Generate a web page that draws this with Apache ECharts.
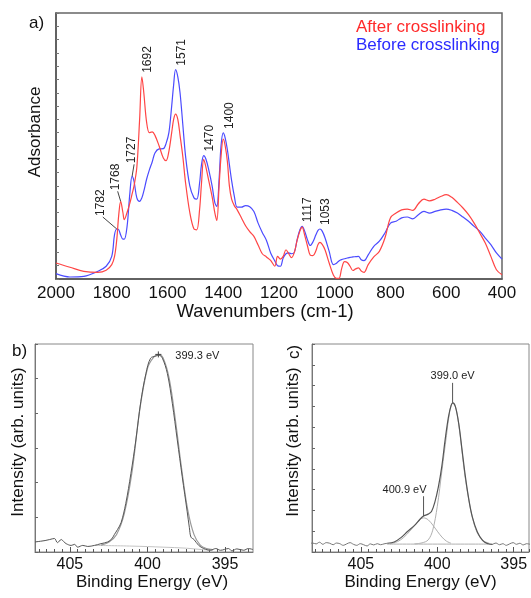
<!DOCTYPE html>
<html><head><meta charset="utf-8">
<script src="https://cdn.jsdelivr.net/npm/echarts@6/dist/echarts.min.js"></script>
<style>html,body{margin:0;padding:0;background:#fff}#c{width:531px;height:598px}</style>
</head><body><div id="c"></div>
<script>
const FONT = '"Liberation Sans", Arial, Helvetica, sans-serif';

// ---- Panel a: FTIR ----
const wavenumbers = [2000,1950,1900,1850,1820,1800,1790,1782,1775,1768,1760,1755,1745,1735,1727,1720,1710,1700,1692,1685,1675,1665,1655,1645,1630,1615,1605,1595,1585,1578,1571,1563,1555,1545,1535,1520,1505,1495,1485,1478,1470,1462,1452,1440,1430,1423,1415,1408,1400,1393,1385,1378,1370,1360,1350,1335,1320,1305,1290,1275,1260,1245,1230,1215,1205,1195,1185,1175,1165,1155,1145,1135,1125,1117,1108,1098,1088,1078,1068,1060,1053,1045,1035,1020,1005,995,985,975,965,955,945,935,925,915,905,895,880,860,840,820,800,780,760,740,720,700,680,660,640,620,600,580,560,540,520,500,480,460,440,420,400];
const afterCrosslinking = [6.0,4.4,2.9,2.5,3.3,5.4,8.5,14.8,24,29.2,25,22.3,25,28.5,32,35,42,60,76,70,59,55,55.3,54,50,45.5,44.5,48,55,60,62,60,54,46,36,25,18.8,18.5,26,36,45,42,37,31,24.8,22,34.8,46,52.6,50,44,35,30,27.5,26,23,20,17.8,16,12.8,9.5,8.3,7,4.8,8.5,7.5,8.5,11,9.5,8,10,14.5,18,19.5,16.5,12.5,9,8.8,10.5,13,13.8,13,11,6,1.5,0.3,0.2,4,6.5,6.2,4.8,3.2,3.8,4.2,3,2.5,5.4,8.3,10.4,15.4,23,24.8,26,26.3,25.8,28.3,30,29.4,30,31,31.7,30.7,28.8,26.7,24.2,21,17.3,13.5,8.5,3.5,1.6];
const beforeCrosslinking = [2,0.75,1,2.9,4.8,8.5,16.7,18.8,18.5,16.5,15,15,19.8,32.3,38.6,36.7,30.5,29.2,30.5,33,37.5,41,44,47.4,48.9,49,51,55,65,73,78.7,76,70,58,46,35,30.5,30,36,43,46.4,45,41,35,28.6,27.3,37.3,50,54.9,53,48.5,43,37,31,27,27,27.6,27.2,25.4,21,17.5,14.5,9.8,6.8,5,4.8,7.9,9.5,9.8,9.5,10,14.8,18.5,19.8,18,14.8,12.6,14,16.5,18.3,18.8,18,15.5,10.4,5.4,5.8,6.8,7.3,7.6,7.9,8.1,8.3,8.4,8.5,7.2,6.9,9.1,12.3,14.2,17.3,21,21.7,23,23.3,22.6,24.2,25.4,24.8,25.4,26,26.3,25.8,24.8,23.3,21.7,19.8,18,15.4,12.9,9.8,7.5];
const peakWavenumbers = [1782,1768,1727,1692,1571,1470,1400,1117,1053];
const peakLabels = ['1782','1768','1727','1692','1571','1470','1400','1117','1053'];
const seriesNames = ['After crosslinking','Before crosslinking'];

// ---- Panel b: XPS N1s ----
const bDataEnergy = [407.25,406.9,406.6,406.3,406.0,405.8,405.56,405.4,405.24,404.92,404.7,404.5,404.17,403.85,403.42,403.0,402.57,402.3,402.14,401.93,401.7,401.4,401.07,400.75,400.43,400.1,399.8,399.47,399.26,399.04,398.72,398.4,398.08,397.76,397.44,397.3,397.2,397.0,396.7,396.37,395.95,395.6,395.3,394.77,394.56,394.24,393.8,393.5,393.2];
const bDataIntensity = [0.29,0.31,0.33,0.36,0.39,0.27,0.36,0.3,0.24,0.19,0.22,0.14,0.19,0.16,0.19,0.24,0.29,0.38,0.5,0.65,0.85,1.4,2.26,3.23,4.34,5.15,5.59,5.65,5.68,5.59,5.15,4.29,3.23,2.17,1.16,0.7,0.43,0.36,0.19,0.1,0.05,0.1,0.05,0.1,0.03,0.09,0.05,0.1,0.07];
const bFitEnergy = [403.0,402.5,402.0,401.5,401.0,400.5,400.0,399.6,399.3,399.0,398.6,398.2,397.8,397.4,397.0,396.6,396.2,395.8];
const bFitIntensity = [0.2,0.28,0.5,1.1,2.3,4.1,5.3,5.62,5.7,5.6,5.0,3.8,2.4,1.2,0.5,0.2,0.1,0.07];
const bBgEnergy = [403.4,401.0,399.0,397.5,396.5,395.8];
const bBgIntensity = [0.19,0.17,0.14,0.11,0.07,0.05];
const bPeakEnergy = [399.3];
const bPeakLabel = ['399.3 eV'];

// ---- Panel c: XPS N1s, two components ----
const cDataEnergy = [408.38,408.16,407.93,407.71,407.49,407.27,407.04,406.82,406.6,406.38,406.16,405.93,405.71,405.49,405.27,405.04,404.82,404.6,404.38,404.16,403.93,403.71,403.49,403.27,396.38,396.16,395.93,395.71,395.49,395.27,395.04,394.82,394.6,394.38,394.16,393.93];
const cDataIntensity = [0.40,0.43,0.39,0.47,0.37,0.45,0.42,0.35,0.43,0.4,0.32,0.39,0.45,0.37,0.32,0.4,0.35,0.29,0.39,0.34,0.4,0.35,0.39,0.42,0.37,0.43,0.35,0.4,0.32,0.39,0.45,0.37,0.42,0.34,0.4,0.37];
const cFitEnergy = [403.27,402.82,402.38,401.93,401.49,401.16,400.93,400.6,400.38,400.16,399.93,399.71,399.49,399.27,399.09,398.98,398.82,398.6,398.38,398.16,397.93,397.71,397.38,397.04,396.71,396.38];
const cFitIntensity = [0.42,0.48,0.69,1.0,1.28,1.55,1.72,1.82,1.95,2.4,3.13,4.09,5.38,6.5,7.06,7.17,7.0,6.18,4.9,3.61,2.49,1.69,0.96,0.56,0.4,0.37];
const cComp1Energy = [401.5,401.0,400.6,400.3,400.0,399.7,399.4,399.2,399.0,398.8,398.6,398.4,398.2,397.9,397.7,397.4,397.0,396.6];
const cComp1Intensity = [0.39,0.44,0.58,1.05,2.2,3.9,5.6,6.7,7.15,6.95,6.15,4.95,3.7,2.35,1.65,0.95,0.55,0.42];
const cComp2Energy = [403.1,402.6,402.2,401.8,401.4,401.1,400.9,400.6,400.3,400.0,399.7,399.4,399.1];
const cComp2Intensity = [0.39,0.5,0.7,1.0,1.35,1.58,1.64,1.55,1.3,1.0,0.72,0.52,0.42];
const cBgEnergy = [403.3,396.7];
const cBgIntensity = [0.38,0.38];
const cPeakEnergy = [399.0,400.9];
const cPeakLabel = ['399.0 eV','400.9 eV'];

const xpsTicks = [395,400,405];

// ---------------------------------------------------------------
const zip = (xs, ys) => xs.map((x, i) => [x, ys[i]]);
const nearest = (xs, ys, x) => { let bi = 0; xs.forEach((v, i) => { if (Math.abs(v - x) < Math.abs(xs[bi] - x)) bi = i; }); return ys[bi]; };
const halfSteps = (a, b) => { const r = []; for (let k = Math.ceil(a * 2); k <= Math.floor(b * 2); k++) r.push(k / 2); return r; };

const peakPoints = peakWavenumbers.map(w => {
  const i = wavenumbers.indexOf(w);
  return [w, Math.max(afterCrosslinking[i], beforeCrosslinking[i])];
});
const leader = {1782: [-14, -12], 1768: [-3, -10], 1727: [2, -12]};

const nameStyle = {fontFamily: FONT, fontSize: 17, color: '#111'};

function xpsX(gridIndex, min, max, pad) {
  return [{
    gridIndex, type: 'value', inverse: true, min, max, position: 'bottom',
    axisLine: {show: true, lineStyle: {color: '#777', width: 1}},
    axisTick: {show: true, inside: true, length: 5, customValues: xpsTicks, lineStyle: {color: '#555'}},
    axisLabel: {customValues: xpsTicks, fontFamily: FONT, fontSize: 16, color: '#111', margin: 5},
    splitLine: {show: false},
    name: 'Binding Energy (eV)', nameLocation: 'middle', nameGap: 22,
    nameTextStyle: Object.assign({padding: pad}, nameStyle)
  }, {
    gridIndex, type: 'value', inverse: true, min, max, position: 'bottom',
    axisLine: {show: false}, axisLabel: {show: false}, splitLine: {show: false},
    axisTick: {show: true, inside: true, length: 3, customValues: halfSteps(min, max), lineStyle: {color: '#555'}}
  }];
}
function xpsY(gridIndex, max, gap) {
  return {
    gridIndex, type: 'value', min: 0, max, interval: 1,
    axisLine: {show: true, lineStyle: {color: '#777'}},
    axisTick: {show: true, inside: true, length: 3, lineStyle: {color: '#666'}},
    axisLabel: {show: false}, splitLine: {show: false},
    name: 'Intensity (arb. units)', nameLocation: 'middle', nameGap: gap,
    nameTextStyle: Object.assign({padding: [0, 0, 0, 12]}, nameStyle)
  };
}
const lineS = (name, xi, yi, data, color, width, z) => ({
  name, type: 'line', xAxisIndex: xi, yAxisIndex: yi, data, showSymbol: false, symbol: 'none',
  smooth: 0.35, lineStyle: {color, width}, itemStyle: {color}, z: z || 2, animation: false, silent: true
});

const option = {
  animation: false,
  backgroundColor: '#fff',
  grid: [
    {left: 56, right: 29, top: 13, bottom: 319, show: true, borderColor: '#666', borderWidth: 1.5},
    {left: 35, right: 278, top: 344, bottom: 46, show: true, borderColor: '#888', borderWidth: 1},
    {left: 312, right: 2, top: 344, bottom: 46, show: true, borderColor: '#888', borderWidth: 1}
  ],
  legend: {
    left: 350, top: 18, orient: 'vertical', padding: 0, itemGap: 0, itemWidth: 0, itemHeight: 0,
    selectedMode: false,
    data: [
      {name: seriesNames[0], textStyle: {color: '#ff2a2a'}},
      {name: seriesNames[1], textStyle: {color: '#2b2bff'}}
    ],
    textStyle: {fontFamily: FONT, fontSize: 17, lineHeight: 18}
  },
  xAxis: [
    {
      gridIndex: 0, type: 'value', inverse: true, min: 400, max: 2000, interval: 200,
      axisLine: {lineStyle: {color: '#555', width: 1.5}},
      axisTick: {show: false},
      axisLabel: {fontFamily: FONT, fontSize: 17, color: '#111', margin: 6, formatter: v => String(v)},
      splitLine: {show: false},
      name: 'Wavenumbers (cm-1)', nameLocation: 'middle', nameGap: 23,
      nameTextStyle: {fontFamily: FONT, fontSize: 18.5, color: '#111', padding: [0, 28, 0, 0]}
    },
    ...xpsX(1, 393.2, 407.25, [0, 0, 0, 16]),
    ...xpsX(2, 394.0, 408.2, [0, 0, 0, 0])
  ],
  yAxis: [
    {
      gridIndex: 0, type: 'value', min: 0, max: 100, interval: 5,
      axisLine: {show: true, lineStyle: {color: '#555', width: 1.5}},
      axisTick: {show: true, inside: true, length: 3, lineStyle: {color: '#777'}},
      axisLabel: {show: false}, splitLine: {show: false},
      name: 'Adsorbance', nameLocation: 'middle', nameGap: 12,
      nameTextStyle: Object.assign({padding: [0, 0, 0, 28]}, nameStyle)
    },
    xpsY(1, 6, 8),
    xpsY(2, 10, 10)
  ],
  graphic: [
    {type: 'text', x: 29, y: 23, style: {text: 'a)', font: '17px ' + FONT, fill: '#111', verticalAlign: 'middle'}},
    {type: 'text', x: 12, y: 351, style: {text: 'b)', font: '17px ' + FONT, fill: '#111', verticalAlign: 'middle'}},
    {type: 'text', x: 294, y: 352, rotation: Math.PI / 2, style: {text: 'c)', font: '17px ' + FONT, fill: '#111', align: 'center', verticalAlign: 'middle'}}
  ],
  series: [
    lineS(seriesNames[1], 0, 0, zip(wavenumbers, beforeCrosslinking), '#4b4bff', 1.2, 2),
    lineS(seriesNames[0], 0, 0, zip(wavenumbers, afterCrosslinking), '#ff4545', 1.2, 3),
    {
      type: 'custom', xAxisIndex: 0, yAxisIndex: 0, data: peakPoints, clip: false, z: 5, silent: true,
      renderItem(params, api) {
        const i = params.dataIndex;
        const p = api.coord([api.value(0), api.value(1)]);
        const w = peakWavenumbers[i];
        const ch = [];
        let tx, ty;
        if (leader[w]) {
          const d = leader[w];
          ch.push({type: 'line', shape: {x1: p[0], y1: p[1], x2: p[0] + d[0], y2: p[1] + d[1]}, style: {stroke: '#444', lineWidth: 1}});
          tx = p[0] + d[0] - 2; ty = p[1] + d[1] - 1;
        } else { tx = p[0] + 6; ty = p[1] - 4; }
        ch.push({type: 'text', x: tx, y: ty, rotation: Math.PI / 2,
          style: {text: peakLabels[i], font: '12px ' + FONT, fill: '#222', align: 'left', verticalAlign: 'middle'}});
        return {type: 'group', children: ch};
      }
    },
    // panel b
    lineS('b-bg', 1, 1, zip(bBgEnergy, bBgIntensity), '#c4c4c4', 1, 2),
    lineS('b-fit', 1, 1, zip(bFitEnergy, bFitIntensity), '#9a9a9a', 1.2, 3),
    lineS('b-data', 1, 1, zip(bDataEnergy, bDataIntensity), '#555', 1, 4),
    {
      type: 'custom', xAxisIndex: 1, yAxisIndex: 1, clip: false, z: 5, silent: true,
      data: bPeakEnergy.map(e => [e, nearest(bFitEnergy, bFitIntensity, e)]),
      renderItem(params, api) {
        const p = api.coord([api.value(0), api.value(1)]);
        return {type: 'group', children: [
          {type: 'line', shape: {x1: p[0] - 3, y1: p[1], x2: p[0] + 3, y2: p[1]}, style: {stroke: '#444', lineWidth: 1}},
          {type: 'line', shape: {x1: p[0], y1: p[1] - 3, x2: p[0], y2: p[1] + 3}, style: {stroke: '#444', lineWidth: 1}},
          {type: 'text', x: p[0] + 17, y: p[1] + 2, style: {text: bPeakLabel[params.dataIndex], font: '11px ' + FONT, fill: '#222', align: 'left', verticalAlign: 'middle'}}
        ]};
      }
    },
    // panel c
    lineS('c-bg', 3, 2, zip(cBgEnergy, cBgIntensity), '#b0b0b0', 1, 2),
    lineS('c-comp2', 3, 2, zip(cComp2Energy, cComp2Intensity), '#b0b0b0', 1, 2),
    lineS('c-comp1', 3, 2, zip(cComp1Energy, cComp1Intensity), '#b0b0b0', 1, 2),
    lineS('c-data', 3, 2, zip(cDataEnergy.slice(0, 24), cDataIntensity.slice(0, 24)), '#777', 1, 3),
    lineS('c-data2', 3, 2, zip(cDataEnergy.slice(24), cDataIntensity.slice(24)), '#777', 1, 3),
    lineS('c-fit', 3, 2, zip(cFitEnergy, cFitIntensity), '#555', 1.2, 4),
    {
      type: 'custom', xAxisIndex: 3, yAxisIndex: 2, clip: false, z: 5, silent: true,
      data: cPeakEnergy.map(e => [e, nearest(cFitEnergy, cFitIntensity, e)]),
      renderItem(params, api) {
        const i = params.dataIndex;
        const p = api.coord([api.value(0), api.value(1)]);
        const top = p[1] - 20;
        const right = i === 1;
        return {type: 'group', children: [
          {type: 'line', shape: {x1: p[0], y1: p[1], x2: p[0], y2: top}, style: {stroke: '#555', lineWidth: 1}},
          {type: 'text', x: right ? p[0] + 3 : p[0], y: top - 1, style: {text: cPeakLabel[i], font: '11px ' + FONT, fill: '#222', align: right ? 'right' : 'center', verticalAlign: 'bottom'}}
        ]};
      }
    }
  ]
};
const chart = echarts.init(document.getElementById('c'), null, {renderer: 'canvas'});
chart.setOption(option);
</script></body></html>
